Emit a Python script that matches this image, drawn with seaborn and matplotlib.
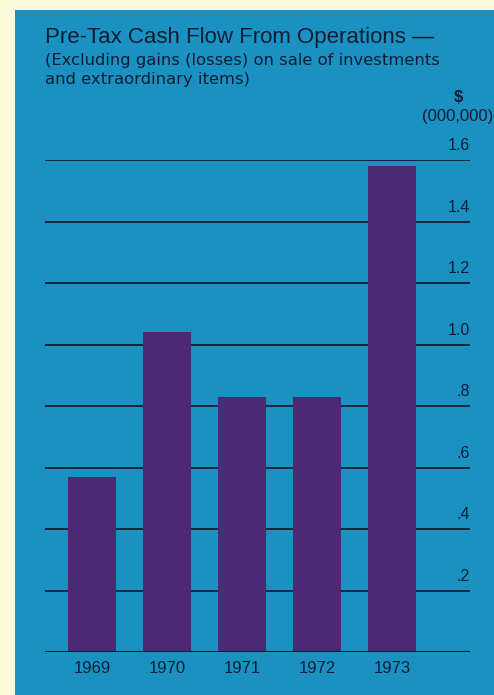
import matplotlib
matplotlib.use("Agg")
import matplotlib.pyplot as plt
import matplotlib.patches as mpatches
import matplotlib.transforms as mtransforms
import seaborn as sns
import pandas as pd

years = ["1969", "1970", "1971", "1972", "1973"]
cash_flow = [0.57, 1.04, 0.83, 0.83, 1.58]
tick_values = [0.2, 0.4, 0.6, 0.8, 1.0, 1.2, 1.4, 1.6]
tick_labels = [".2", ".4", ".6", ".8", "1.0", "1.2", "1.4", "1.6"]

title = "Pre-Tax Cash Flow From Operations \u2014"
subtitle = "(Excluding gains (losses) on sale of investments\nand extraordinary items)"

sns.set_theme(style="white")
plt.rcParams['font.family'] = ['Liberation Sans', 'DejaVu Sans']

W, H = 494, 695
CREAM = "#fbf8dc"
BLUE = "#1b91c2"
PURPLE = "#4a2a72"
INK = "#0e1d35"

fig = plt.figure(figsize=(W / 100, H / 100), dpi=100, facecolor=CREAM)
fig.patches.append(mpatches.Rectangle((15 / W, 0), 1 - 15 / W, (H - 10) / H,
                                      transform=fig.transFigure, facecolor=BLUE,
                                      edgecolor="none", zorder=-10))

left, right, top_px, base_px = 45, 470, 160, 652
ax = fig.add_axes([left / W, (H - base_px) / H, (right - left) / W, (base_px - top_px) / H])
ax.set_zorder(5)
ax.set_facecolor("none")

df = pd.DataFrame({"year": years, "value": cash_flow})
sns.barplot(data=df, x="year", y="value", color=PURPLE, saturation=1, width=0.64,
            ax=ax, zorder=3, edgecolor="none")

ax.set_ylim(0, 1.6)
ax.set_xlim(-0.627, 5.04)
for s in ax.spines.values():
    s.set_visible(False)
ax.set_yticks([])
ax.set_xticks([])
ax.set_xlabel("")
ax.set_ylabel("")

# gridlines
ax.axhline(0, color=INK, lw=1.5, zorder=4)
trans = mtransforms.blended_transform_factory(ax.transAxes, ax.transData)
for v, lab in zip(tick_values, tick_labels):
    ax.axhline(v, color=INK, lw=1.3, zorder=1)
    ax.text(1.0, v + 0.022, lab, transform=trans, ha="right", va="bottom",
            fontsize=11.5, color=INK, clip_on=False)

# year labels
for i, y in enumerate(years):
    ax.text(i, -0.055, y, ha="center", va="center", fontsize=12, color=INK,
            transform=ax.transData, clip_on=False)

fig.text(45 / W, 1 - 38 / H, title, fontsize=16, color=INK, ha="left", va="center")
fig.text(45 / W, 1 - 53 / H, subtitle, fontsize=11.8, color=INK, ha="left", va="top",
         linespacing=1.3, family=["DejaVu Sans"])
fig.text(458 / W, 1 - 98 / H, "$", fontsize=12, color=INK, ha="center", va="center",
         fontweight="bold")
fig.text(493 / W, 1 - 116 / H, "(000,000)", fontsize=12, color=INK, ha="right", va="center")

fig.savefig("out.png", dpi=100, facecolor=CREAM)
